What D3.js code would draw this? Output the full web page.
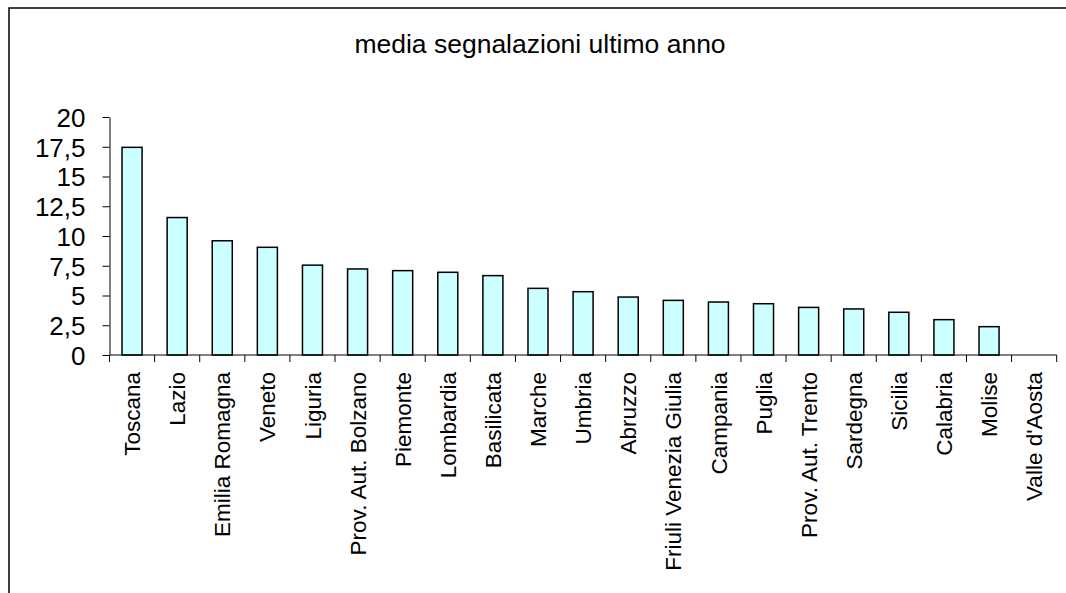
<!DOCTYPE html>
<html>
<head>
<meta charset="utf-8">
<script src="https://cdn.jsdelivr.net/npm/d3@7"></script>
<style>
  html, body { margin: 0; padding: 0; background: #fff; }
  svg { display: block; }
  text { font-family: "Liberation Sans", Arial, sans-serif; fill: #000; }
</style>
</head>
<body>
<svg id="chart" width="1066" height="593"></svg>
<script>
const categories = ["Toscana","Lazio","Emilia Romagna","Veneto","Liguria","Prov. Aut. Bolzano","Piemonte","Lombardia","Basilicata","Marche","Umbria","Abruzzo","Friuli Venezia Giulia","Campania","Puglia","Prov. Aut. Trento","Sardegna","Sicilia","Calabria","Molise","Valle d'Aosta"];
const values = [17.45, 11.55, 9.6, 9.05, 7.55, 7.23, 7.09, 6.95, 6.67, 5.6, 5.32, 4.87, 4.59, 4.45, 4.31, 4.0, 3.87, 3.59, 2.97, 2.38, 0];
const yTicks = [0, 2.5, 5, 7.5, 10, 12.5, 15, 17.5, 20];
const title = "media segnalazioni ultimo anno";

const svg = d3.select("#chart");

// outer frame (extends beyond right/bottom edges)
svg.append("rect")
  .attr("x", 9).attr("y", 8).attr("width", 1100).attr("height", 700)
  .attr("fill", "#fff").attr("stroke", "#000").attr("stroke-width", 1.5);

const pLeft = 109.5, pRight = 1056.7, pTop = 117, pBottom = 355;

const x = d3.scaleBand().domain(categories).range([pLeft, pRight])
  .paddingInner(0.556).paddingOuter(0.278);
const y = d3.scaleLinear().domain([0, 20]).range([pBottom, pTop]);

const fmt = d => String(d).replace(".", ",");

// title
svg.append("text")
  .attr("x", 540).attr("y", 53)
  .attr("text-anchor", "middle")
  .style("font-size", "26.5px")
  .text(title);

// bars
svg.append("g").selectAll("rect")
  .data(categories.map((c, i) => ({c, v: values[i]})).filter(d => d.v > 0))
  .join("rect")
  .attr("x", d => x(d.c))
  .attr("y", d => y(d.v))
  .attr("width", x.bandwidth())
  .attr("height", d => y(0) - y(d.v))
  .attr("fill", "#CCFFFF")
  .attr("stroke", "#000")
  .attr("stroke-width", 1.5);

// y axis
const yAxis = svg.append("g")
  .attr("transform", `translate(${pLeft},0)`)
  .call(d3.axisLeft(y).tickValues(yTicks).tickFormat(fmt).tickSize(7).tickSizeOuter(0).tickPadding(17));
yAxis.selectAll("text").style("font-size", "26px").attr("dy", "0.36em");
yAxis.selectAll("line, path").attr("stroke", "#000");

// x axis line and boundary ticks
const xg = svg.append("g");
xg.append("line")
  .attr("x1", pLeft).attr("x2", pRight).attr("y1", pBottom).attr("y2", pBottom)
  .attr("stroke", "#000");
const bounds = d3.range(categories.length + 1).map(i => pLeft + i * x.step());
xg.selectAll("line.tk").data(bounds).join("line")
  .attr("class", "tk")
  .attr("x1", d => d).attr("x2", d => d)
  .attr("y1", pBottom).attr("y2", pBottom + 7)
  .attr("stroke", "#000");

// x labels
xg.selectAll("text").data(categories).join("text")
  .attr("transform", d => `translate(${x(d) + x.bandwidth() / 2},372) rotate(-90)`)
  .attr("text-anchor", "end")
  .attr("dy", "0.36em")
  .style("font-size", "22.5px")
  .text(d => d);
</script>
</body>
</html>
